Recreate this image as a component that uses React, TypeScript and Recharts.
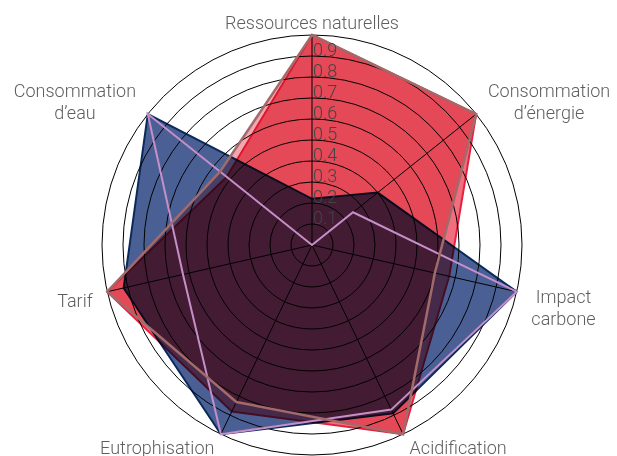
import { PolarAngleAxis, PolarGrid, PolarRadiusAxis, Radar, RadarChart } from "recharts";

// axes, clockwise from the top
const subjects = [
  "Ressources naturelles",
  "Consommation\nd’énergie",
  "Impact\ncarbone",
  "Acidification",
  "Eutrophisation",
  "Tarif",
  "Consommation\nd’eau",
];

const rougeValues = [1.0, 1.0, 0.67, 1.0, 0.88, 1.0, 0.52];
const roseValues = [1.0, 1.0, 0.6, 1.0, 0.83, 1.0, 0.56];
const bleuValues = [0.22, 0.4, 1.0, 0.89, 1.0, 0.92, 1.0];
const lilasValues = [0, 0.25, 1.0, 0.87, 1.0, 0.63, 1.0];

const radiusTicks = [0, 0.1, 0.2, 0.3, 0.4, 0.5, 0.6, 0.7, 0.8, 0.9, 1];

const data = subjects.map((subject, i) => ({
  subject,
  rouge: rougeValues[i],
  rose: roseValues[i],
  bleu: bleuValues[i],
  lilas: lilasValues[i],
}));

const CX = 304;
const CY = 237;
const OUTER = 210;
const FONT = "Roboto, 'Noto Sans', sans-serif";
const LABEL_SIZE = 18;

// baseline shift of each label's first line, relative to its anchor point
const labelDy = [12, -6, 7, 4, 4, 11, -6];

let ctx: CanvasRenderingContext2D | null = null;
function textWidth(s: string) {
  if (!ctx) ctx = document.createElement("canvas").getContext("2d");
  if (!ctx) return s.length * LABEL_SIZE * 0.5;
  ctx.font = `300 ${LABEL_SIZE}px Roboto`;
  return ctx.measureText(s).width;
}

function AngleTick(props: any) {
  const { x, y, payload } = props;
  const idx = subjects.indexOf(payload.value);
  const dx = x - CX;
  const dy = y - CY;
  const len = Math.hypot(dx, dy) || 1;
  const ux = dx / len;
  const uy = dy / len;
  const ax = CX + ux * (OUTER + 15);
  const ay = CY + uy * (OUTER + 18);
  const lines = String(payload.value).split("\n");
  const w = Math.max(...lines.map(textWidth));
  // lines are centred on each other, the block hangs off the anchor
  const mid = Math.abs(ux) < 0.1 ? ax : ux > 0 ? ax + w / 2 : ax - w / 2;
  return (
    <text
      x={mid}
      y={ay + (labelDy[idx] ?? 0)}
      textAnchor="middle"
      fontFamily={FONT}
      fontWeight={300}
      fontSize={LABEL_SIZE}
      fill="#5e5e5e"
    >
      {lines.map((l, i) => (
        <tspan key={i} x={mid} dy={i === 0 ? 0 : 22}>
          {l}
        </tspan>
      ))}
    </text>
  );
}

function RadiusTick(props: any) {
  const { x, y, payload } = props;
  const v = Number(payload.value);
  if (v <= 0 || v >= 1) return null;
  return (
    <text x={x + 1} y={y} textAnchor="start" fontFamily={FONT} fontWeight={300} fontSize={18} fill="#444">
      {v.toFixed(1)}
    </text>
  );
}

export default function App() {
  return (
    <div style={{ width: 609, height: 448 }}>
      <style>{`.mult { mix-blend-mode: multiply; }`}</style>
      <RadarChart width={609} height={448} cx={CX} cy={CY} outerRadius={OUTER} data={data} margin={{ top: 0, right: 0, bottom: 0, left: 0 }}>
        <PolarGrid gridType="circle" stroke="#000" strokeOpacity={1} />
        <PolarAngleAxis dataKey="subject" tick={<AngleTick />} tickLine={false} axisLine={false} />
        <PolarRadiusAxis
          angle={90}
          domain={[0, 1]}
          ticks={radiusTicks as any}
          tickCount={11}
          axisLine={false}
          tickLine={false}
          tick={<RadiusTick />}
        />
        <Radar className="mult" dataKey="rouge" fill="#f06e7d" fillOpacity={1} stroke="#e8203f" strokeWidth={2} dot={false} isAnimationActive={false} />
        <Radar className="mult" dataKey="rose" fill="#f4a6b0" fillOpacity={1} stroke="none" dot={false} isAnimationActive={false} />
        <Radar className="mult" dataKey="bleu" fill="#4a6094" fillOpacity={1} stroke="#0a2a5c" strokeWidth={2} dot={false} isAnimationActive={false} />
        <Radar dataKey="lilas" fill="none" fillOpacity={0} stroke="#c58fc9" strokeWidth={2} dot={false} isAnimationActive={false} />
        <Radar dataKey="rose" fill="none" fillOpacity={0} stroke="#a26a6a" strokeWidth={2.5} dot={false} isAnimationActive={false} />
      </RadarChart>
    </div>
  );
}
